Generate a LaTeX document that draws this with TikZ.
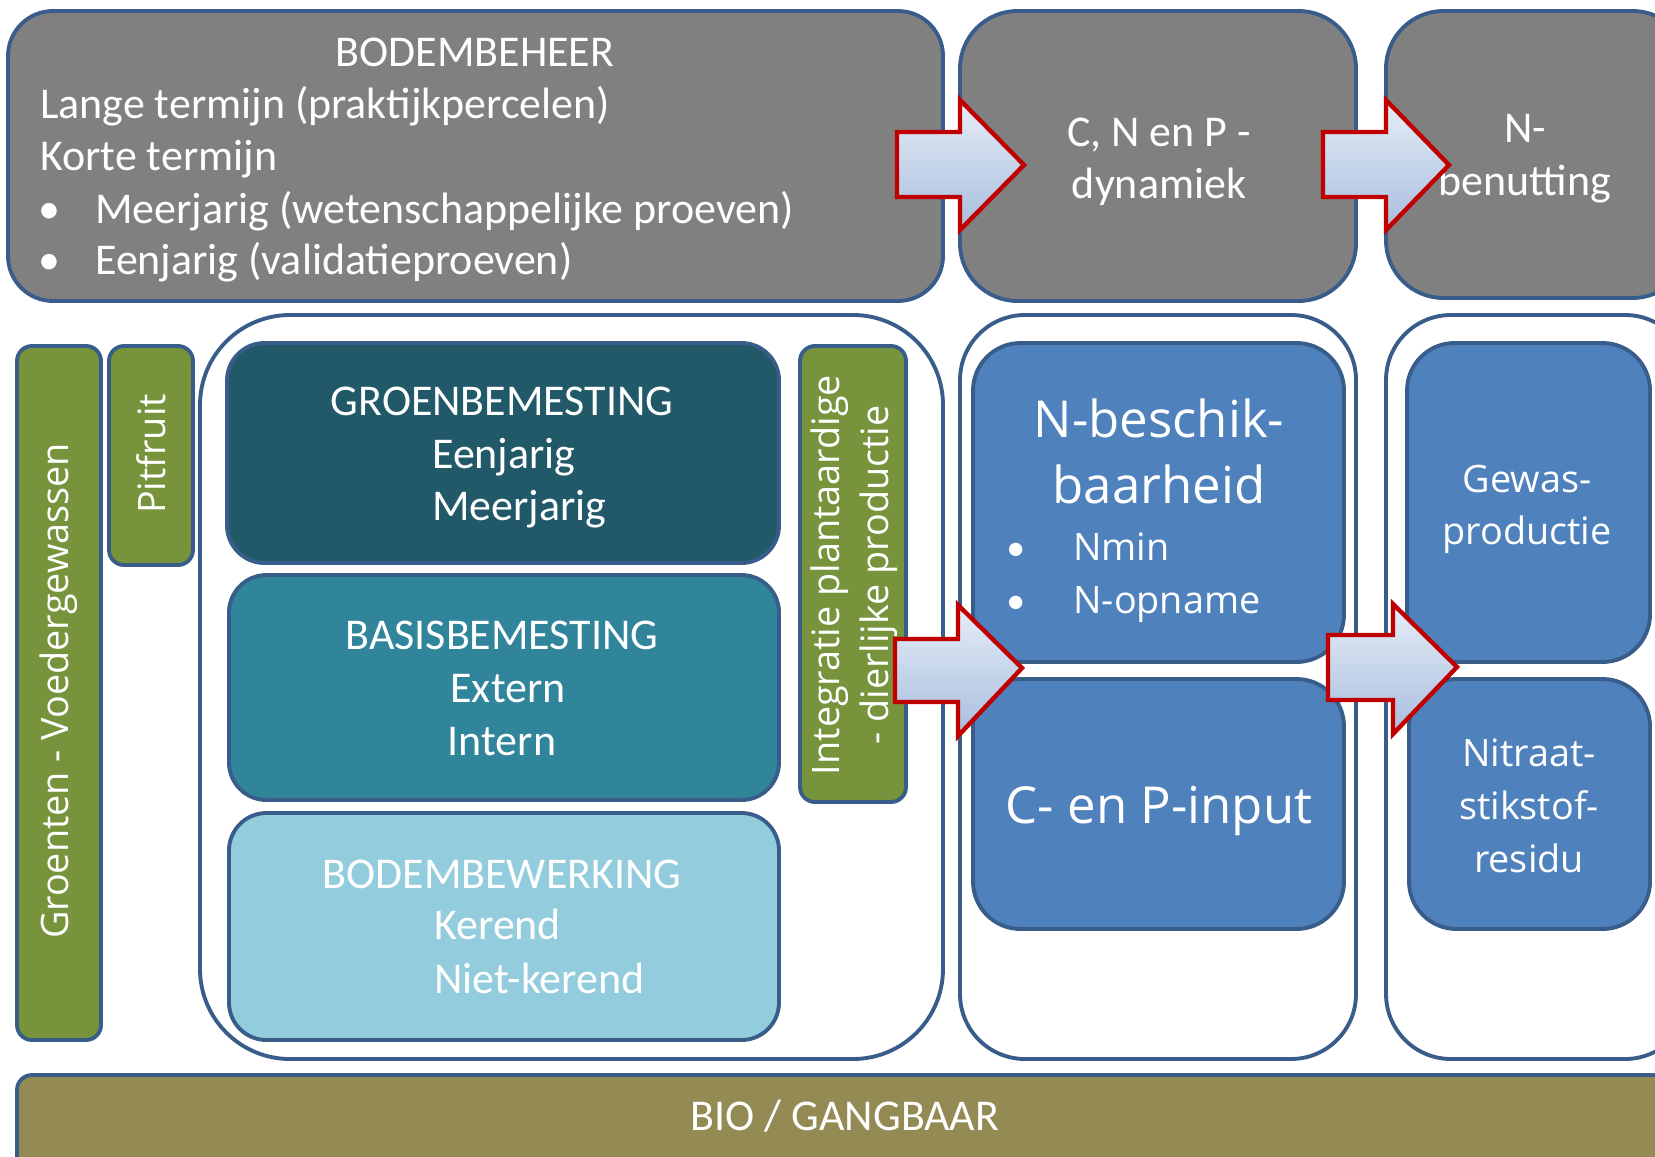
\documentclass[tikz,border=0pt]{standalone}
\usepackage{fontspec}
\setmainfont{Carlito}
\newfontfamily\segoe{Open Sans}
\definecolor{outline}{RGB}{56,93,138}
\definecolor{beheergrijs}{RGB}{128,128,128}
\definecolor{groenbem}{RGB}{33,89,104}
\definecolor{basisbem}{RGB}{49,133,155}
\definecolor{bewerking}{RGB}{147,205,221}
\definecolor{teelt}{RGB}{119,147,60}
\definecolor{nblauw}{RGB}{79,129,189}
\definecolor{bio}{RGB}{148,138,84}
\definecolor{pijlrood}{RGB}{192,0,0}
\begin{document}
\begin{tikzpicture}[x=0.02cm, y=-0.02cm,
  box/.style={draw=outline, line width=2.2pt},
  lbl/.style={text=white, inner sep=0pt, font=\fontsize{25}{30}\selectfont},
  slbl/.style={text=white, inner sep=0pt, font=\segoe\fontsize{21.5}{27.6}\selectfont},
  blbl/.style={text=white, inner sep=0pt, font=\segoe\fontsize{29}{38}\selectfont},
  blokpijl/.style={draw=pijlrood, line width=2.5pt, line join=miter,
    top color={rgb,255:red,230;green,237;blue,247}, bottom color={rgb,255:red,168;green,190;blue,222}}]

\useasboundingbox (0,0) rectangle (1655,1156);
\clip (0,0) rectangle (1655,1156);

\draw[box, fill=beheergrijs, rounded corners=0.9cm] (8,11) rectangle (943,301);
\draw[box, fill=beheergrijs, rounded corners=1.15cm] (960,11) rectangle (1356,301);
\draw[box, fill=beheergrijs, rounded corners=1.15cm] (1386,11) rectangle (1690,298);

\draw[box, fill=white, rounded corners=1.8cm] (200,315) rectangle (943,1059);
\draw[box, fill=white, rounded corners=1.3cm] (960,315) rectangle (1356,1059);
\draw[box, fill=white, rounded corners=1.3cm] (1386,315) rectangle (1690,1059);

\draw[box, fill=teelt, rounded corners=0.3cm] (17,346) rectangle (101,1040);
\draw[box, fill=teelt, rounded corners=0.3cm] (109,346) rectangle (193,565);
\draw[box, fill=teelt, rounded corners=0.3cm] (800,346) rectangle (906,802);

\draw[box, fill=groenbem, rounded corners=0.75cm] (227,343) rectangle (779,563);
\draw[box, fill=basisbem, rounded corners=0.75cm] (229,575) rectangle (779,800);
\draw[box, fill=bewerking, rounded corners=0.75cm] (229,813) rectangle (779,1040);

\draw[box, fill=nblauw, rounded corners=0.95cm] (973,343) rectangle (1344,662);
\draw[box, fill=nblauw, rounded corners=0.95cm] (973,679) rectangle (1344,929);
\draw[box, fill=nblauw, rounded corners=0.95cm] (1407,343) rectangle (1650,662);
\draw[box, fill=nblauw, rounded corners=0.95cm] (1409,679) rectangle (1650,929);

\draw[box, fill=bio, rounded corners=0.3cm] (17,1075) rectangle (1690,1190);

\node[lbl, anchor=base] (bodembeheer) at (475,66) {BODEMBEHEER};
\node[lbl, anchor=base west] (lang) at (40,118) {Lange termijn (praktijkpercelen)};
\node[lbl, anchor=base west] (kort) at (40,170) {Korte termijn};
\node[lbl, anchor=base west] (meerjarig) at (38,223) {\makebox[1.14cm][l]{\textbullet}Meerjarig (wetenschappelijke proeven)};
\node[lbl, anchor=base west] (eenjarig) at (38,274) {\makebox[1.14cm][l]{\textbullet}Eenjarig (validatieproeven)};

\node[lbl, anchor=base] (dyn1) at (1159,146) {C, N en P -};
\node[lbl, anchor=base] (dyn2) at (1159,198) {dynamiek};
\node[lbl, anchor=base] (ben1) at (1525,142) {N-};
\node[lbl, anchor=base] (ben2) at (1525,195) {benutting};

\node[slbl, rotate=90] (groenten) at (59,691) {Groenten - Voedergewassen};
\node[slbl, rotate=90] (pitfruit) at (151,454) {Pitfruit};
\node[slbl, rotate=90, align=center] (integratie) at (854,575) {Integratie plantaardige\\- dierlijke productie};

\node[lbl, anchor=base] (groen) at (502,415) {GROENBEMESTING};
\node[lbl, anchor=base west] (groen1) at (432,468) {Eenjarig};
\node[lbl, anchor=base west] (groen2) at (432,520) {Meerjarig};
\node[lbl, anchor=base] (basis) at (502,649) {BASISBEMESTING};
\node[lbl, anchor=base] (basis1) at (508,702) {Extern};
\node[lbl, anchor=base] (basis2) at (502,755) {Intern};
\node[lbl, anchor=base] (bewerk) at (502,888) {BODEMBEWERKING};
\node[lbl, anchor=base west] (bewerk1) at (434,939) {Kerend};
\node[lbl, anchor=base west] (bewerk2) at (434,993) {Niet-kerend};

\node[blbl, anchor=base] (nbes1) at (1159,437) {N-beschik-};
\node[blbl, anchor=base] (nbes2) at (1159,503) {baarheid};
\node[slbl, anchor=base west] (nmin) at (1006,560) {\makebox[1.34cm][l]{\rmfamily\textbullet}Nmin};
\node[slbl, anchor=base west] (nopname) at (1006,613) {\makebox[1.34cm][l]{\rmfamily\textbullet}N-opname};
\node[blbl, anchor=base] (cpinput) at (1159,823) {C- en P-input};

\node[slbl, anchor=base] (gewas1) at (1527,492) {Gewas-};
\node[slbl, anchor=base] (gewas2) at (1527,544) {productie};
\node[slbl, anchor=base] (nitraat1) at (1529,766) {Nitraat-};
\node[slbl, anchor=base] (nitraat2) at (1529,819) {stikstof-};
\node[slbl, anchor=base] (nitraat3) at (1529,872) {residu};

\node[lbl, anchor=base] (biogangbaar) at (845,1130) {BIO / GANGBAAR};

\draw[blokpijl] (897,132) -- (960,132) -- (960,100) -- (1024,165) -- (960,230) -- (960,197) -- (897,197) -- cycle;
\draw[blokpijl] (1323,132) -- (1386,132) -- (1386,100) -- (1449,165) -- (1386,230) -- (1386,197) -- (1323,197) -- cycle;
\draw[blokpijl] (895,639) -- (958,639) -- (958,605) -- (1022,668) -- (958,736) -- (958,702) -- (895,702) -- cycle;
\draw[blokpijl] (1328,635) -- (1393,635) -- (1393,604) -- (1457,667) -- (1393,734) -- (1393,700) -- (1328,700) -- cycle;

\end{tikzpicture}
\end{document}
